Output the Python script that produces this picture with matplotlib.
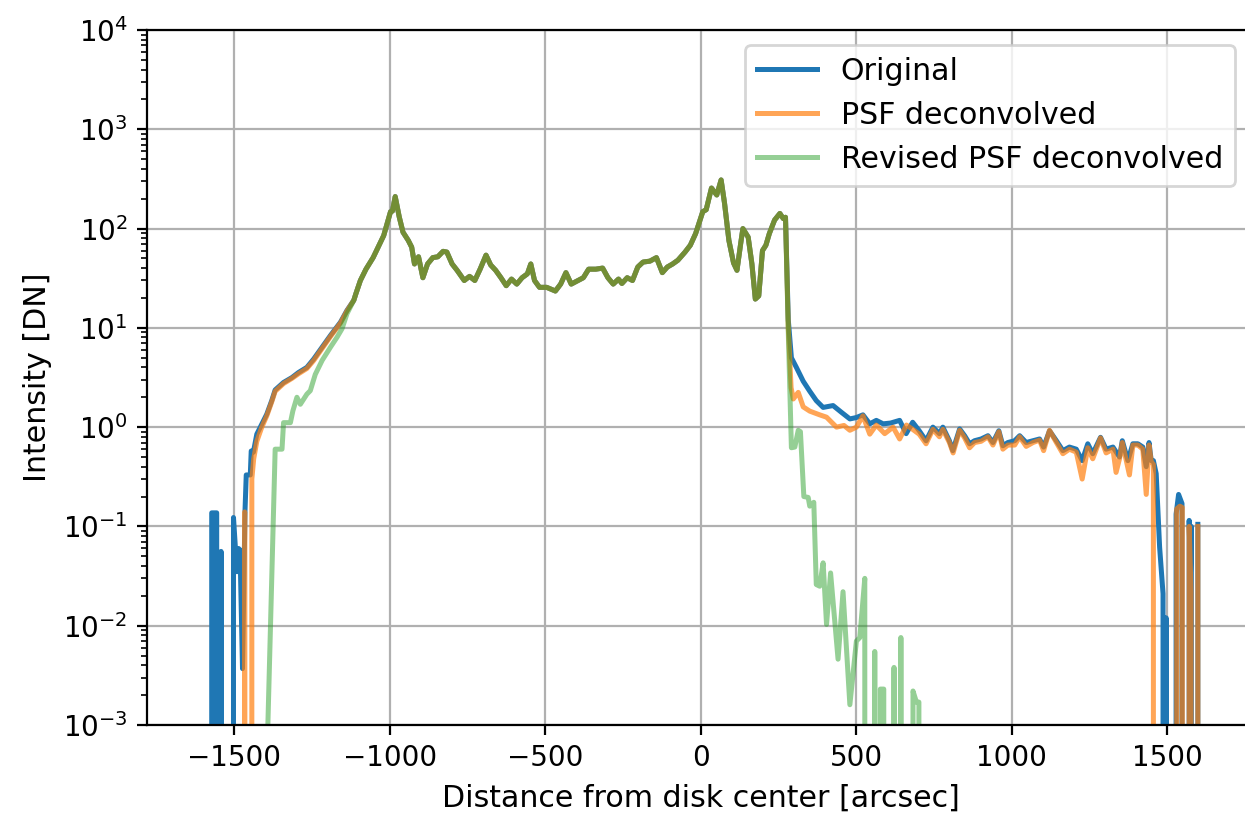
import numpy as np
import matplotlib
matplotlib.use('Agg')
import matplotlib.pyplot as plt

# shared centre of the profile, all three curves overlap here
core_x = [-1116, -1110, -1095, -1077, -1054, -1020, -998, -992, -983, -970,
          -958, -941, -930, -921, -908, -894, -879, -862, -846, -829,
          -817, -800, -784, -761, -744, -727, -710, -691, -676, -660,
          -643, -626, -609, -592, -575, -558, -547, -535, -519, -496,
          -468, -451, -434, -417, -395, -378, -361, -338, -316, -299,
          -282, -265, -254, -237, -220, -203, -186, -164, -143, -124,
          -108, -91, -74, -51, -34, -17, 6, 17, 34, 51,
          65, 76, 90, 105, 116, 128, 135, 152, 164, 175,
          186, 198, 209, 220, 237, 254, 265, 272]
core_y = [19, 21.8, 30, 39, 51, 85, 148, 150, 210, 131,
          92, 76, 65, 44, 52, 32, 44, 51, 52, 59,
          58, 44, 38, 30, 33, 30, 39, 54, 43, 38,
          32, 26.6, 31, 27.6, 32, 35, 44, 30, 25.6, 25.6,
          23.5, 27.6, 36, 27.6, 30, 32, 39, 39, 40, 32,
          27.6, 31, 28, 32, 30, 41, 46, 47, 51, 36,
          41, 44, 48, 58, 68, 89, 148, 155, 256, 218,
          309, 180, 76, 45, 38, 71, 100, 82, 44, 19.5,
          21, 60, 68, 89, 122, 142, 126, 130]

# Original
blue_left_x = [-1578, -1573, -1557, -1553, -1546, -1543, -1540, -1507, -1503, -1492,
               -1487, -1482, -1474, -1466, -1462, -1449, -1446, -1439, -1428, -1412,
               -1396, -1380, -1369, -1342, -1315, -1294, -1267, -1245, -1218, -1191,
               -1159, -1138]
blue_left_y = [0, 0.137, 0.137, 0, 0, 0.056, 0, 0, 0.123, 0.035,
               0.06, 0.058, 0.0037, 0.143, 0.33, 0.33, 0.575, 0.56, 0.85, 1.07,
               1.35, 1.85, 2.37, 2.82, 3.16, 3.55, 4.0, 4.86, 6.4, 8.4,
               11.4, 15]
blue_right_x = [281, 291, 307, 329, 350, 371, 393, 425, 452, 479,
                500, 521, 543, 564, 586, 610, 639, 660, 681, 702,
                724, 746, 767, 778, 799, 810, 832, 848, 864, 880,
                901, 923, 939, 958, 971, 987, 1009, 1025, 1046, 1068,
                1089, 1102, 1121, 1143, 1164, 1185, 1207, 1226, 1244, 1260,
                1285, 1303, 1325, 1346, 1355, 1373, 1389, 1405, 1421, 1432,
                1441, 1448, 1455, 1464, 1475, 1486, 1490, 1496, 1500, 1525,
                1528, 1536, 1547, 1551, 1566, 1570, 1574, 1577, 1580, 1592,
                1598]
blue_right_y = [12, 5.0, 4.0, 2.9, 2.3, 1.85, 1.58, 1.65, 1.41, 1.21,
                1.25, 1.33, 1.08, 1.17, 1.08, 1.1, 1.17, 0.86, 1.12, 0.92,
                0.73, 1.0, 0.86, 1.0, 0.73, 0.58, 0.96, 0.82, 0.68, 0.73,
                0.76, 0.82, 0.7, 0.92, 0.65, 0.7, 0.73, 0.82, 0.7, 0.73,
                0.76, 0.63, 0.92, 0.73, 0.58, 0.63, 0.6, 0.46, 0.68, 0.54,
                0.79, 0.6, 0.63, 0.5, 0.73, 0.46, 0.68, 0.68, 0.63, 0.4,
                0.7, 0.46, 0.46, 0.34, 0.062, 0.021, 0, 0.012, 0, 0,
                0.133, 0.21, 0.17, 0, 0, 0.115, 0.03, 0.1, 0, 0,
                0.105]

# PSF deconvolved
orange_left_x = [-1472, -1467, -1462, -1448, -1444, -1438, -1428, -1412, -1396, -1380,
                 -1369, -1342, -1315, -1294, -1267, -1245, -1218, -1191, -1159, -1138]
orange_left_y = [0, 0.14, 0, 0, 0.3, 0.48, 0.72, 1.0, 1.3, 1.8,
                 2.3, 2.75, 3.1, 3.45, 3.9, 4.7, 6.2, 8.2, 11.2, 14.8]
orange_right_x = [281, 290, 297, 313, 329, 350, 382, 404, 436, 460,
                  479, 500, 521, 543, 564, 591, 618, 639, 661, 681,
                  702, 724, 746, 767, 778, 799, 811, 832, 848, 864,
                  880, 901, 923, 939, 958, 971, 987, 1009, 1025, 1046,
                  1068, 1089, 1102, 1121, 1143, 1164, 1185, 1207, 1226, 1244,
                  1260, 1285, 1303, 1325, 1335, 1346, 1355, 1378, 1389, 1405,
                  1421, 1432, 1441, 1448, 1455, 1459, 1526, 1530, 1540, 1548,
                  1552, 1566, 1570, 1576, 1580, 1592, 1598]
orange_right_y = [10, 2.5, 1.92, 2.24, 1.6, 1.45, 1.33, 1.26, 1.0, 1.04,
                  0.93, 1.0, 1.3, 0.85, 1.05, 0.86, 1.0, 0.76, 1.05, 0.95,
                  0.85, 0.68, 0.95, 0.8, 0.95, 0.7, 0.55, 0.93, 0.78, 0.62,
                  0.7, 0.72, 0.8, 0.66, 0.9, 0.6, 0.66, 0.66, 0.8, 0.64,
                  0.7, 0.74, 0.58, 0.93, 0.7, 0.54, 0.6, 0.56, 0.3, 0.62,
                  0.48, 0.78, 0.55, 0.6, 0.35, 0.48, 0.7, 0.33, 0.66, 0.66,
                  0.6, 0.21, 0.66, 0.45, 0.42, 0, 0, 0.15, 0.16, 0.155,
                  0, 0, 0.1, 0.022, 0, 0, 0.1]

# Revised PSF deconvolved
green_left_x = [-1395, -1369, -1347, -1342, -1320, -1312, -1299, -1288, -1267, -1256,
                -1240, -1218, -1191, -1170, -1154, -1138]
green_left_y = [0.0005, 0.6, 0.6, 1.11, 1.11, 1.46, 2.0, 1.7, 2.15, 2.33,
                3.4, 4.7, 6.4, 8.05, 9.8, 13.9]
green_right_x = [281, 291, 302, 313, 320, 331, 345, 350, 363, 371,
                 382, 393, 404, 417, 441, 457, 479, 500, 511, 527,
                 543, 559, 570, 577, 588, 596, 621, 629, 643, 661,
                 682, 693, 701, 709]
green_right_y = [9, 0.62, 0.63, 0.93, 0.9, 0.2, 0.196, 0.16, 0.175, 0.026,
                 0.025, 0.043, 0.0103, 0.034, 0.0046, 0.022, 0.0016, 0.007, 0.0076, 0.03,
                 0, 0.0055, 0, 0.0023, 0.0023, 0, 0.0038, 0, 0.0076, 0,
                 0.0022, 0.0017, 0.0017, 0]

xticks = [-1500, -1000, -500, 0, 500, 1000, 1500]


def series(left_x, left_y, right_x, right_y):
    x = np.concatenate([left_x, core_x, right_x])
    y = np.concatenate([left_y, core_y, right_y])
    return x, y


plt.rcParams['font.size'] = 10.8
plt.rcParams['xtick.labelsize'] = 10
plt.rcParams['ytick.labelsize'] = 10
plt.rcParams['lines.linewidth'] = 1.8

fig = plt.figure(figsize=(6.225, 4.09), dpi=200)
# the right spine sits just past the edge of the picture
ax = fig.add_axes([0.1181, 0.1137, 0.890, 0.8496])

bx, by = series(blue_left_x, blue_left_y, blue_right_x, blue_right_y)
ox, oy = series(orange_left_x, orange_left_y, orange_right_x, orange_right_y)
gx, gy = series(green_left_x, green_left_y, green_right_x, green_right_y)

ax.plot(bx, by, color='tab:blue', label='Original')
ax.plot(ox, oy, color='tab:orange', alpha=0.7, label='PSF deconvolved')
ax.plot(gx, gy, color='tab:green', alpha=0.5, label='Revised PSF deconvolved')

ax.set_yscale('log')
ax.set_ylim(1e-3, 1e4)
ax.set_xlim(-1781, 1782)
ax.set_xticks(xticks)
ax.grid()

ax.set_xlabel('Distance from disk center [arcsec]')
ax.set_ylabel('Intensity [DN]')
ax.legend(loc='upper right', bbox_to_anchor=(0.992, 0.945),
          bbox_transform=fig.transFigure, borderaxespad=0)

fig.savefig('out.png', dpi=200)
